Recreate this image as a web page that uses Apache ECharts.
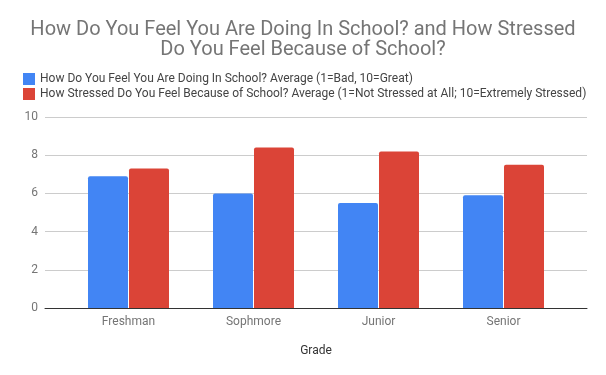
<!DOCTYPE html>
<html>
<head>
<meta charset="utf-8">
<script src="https://cdn.jsdelivr.net/npm/echarts@6/dist/echarts.min.js"></script>
<style>html,body{margin:0;padding:0;background:#fff}#c{width:606px;height:375px}</style>
</head>
<body>
<div id="c"></div>
<script>
var categories = ['Freshman', 'Sophmore', 'Junior', 'Senior'];
var doingValues = [6.9, 6.0, 5.5, 5.9];
var stressValues = [7.3, 8.4, 8.2, 7.5];
var seriesNames = [
  'How Do You Feel You Are Doing In School? Average (1=Bad, 10=Great)',
  'How Stressed Do You Feel Because of School? Average (1=Not Stressed at All; 10=Extremely Stressed)'
];
var yTicks = [0, 2, 4, 6, 8, 10];

var chart = echarts.init(document.getElementById('c'), null, {renderer: 'canvas'});
var font = 'Roboto, "Noto Sans", sans-serif';
chart.setOption({
  backgroundColor: '#ffffff',
  animation: false,
  textStyle: {fontFamily: font},
  title: {
    text: 'How Do You Feel You Are Doing In School? and How Stressed\nDo You Feel Because of School?',
    left: 'center',
    top: 15,
    textStyle: {fontFamily: font, fontSize: 20, fontWeight: 'normal', color: '#757575', lineHeight: 20, align: 'center'}
  },
  legend: {
    orient: 'vertical',
    left: 18,
    top: 68,
    itemWidth: 12,
    itemHeight: 12,
    itemGap: 3,
    icon: 'rect',
    data: seriesNames,
    textStyle: {fontFamily: font, fontSize: 12, color: '#444'}
  },
  grid: [
    {left: 45, right: 19, top: 117, bottom: 67},
    {left: 66, right: 40, top: 117, bottom: 67}
  ],
  xAxis: [
    {
      gridIndex: 0, type: 'category', data: categories,
      axisLabel: {show: false}, axisTick: {show: false},
      axisLine: {lineStyle: {color: '#333', width: 1}}, splitLine: {show: false}
    },
    {
      gridIndex: 1, type: 'category', data: categories,
      axisLine: {show: false}, axisTick: {show: false},
      axisLabel: {margin: 8, fontSize: 12, color: '#757575', fontFamily: font},
      name: 'Grade', nameLocation: 'middle', nameGap: 37,
      nameTextStyle: {fontSize: 12, color: '#333', fontFamily: font}
    }
  ],
  yAxis: [
    {
      gridIndex: 0, type: 'value', min: yTicks[0], max: yTicks[yTicks.length - 1], interval: 2,
      axisLine: {show: false}, axisTick: {show: false},
      axisLabel: {margin: 7, fontSize: 12, color: '#757575', fontFamily: font},
      splitLine: {lineStyle: {color: '#cccccc', width: 1}}
    },
    {
      gridIndex: 1, type: 'value', min: yTicks[0], max: yTicks[yTicks.length - 1], interval: 2,
      show: false, splitLine: {show: false}
    }
  ],
  series: [
    {
      name: seriesNames[0], type: 'bar', xAxisIndex: 1, yAxisIndex: 1,
      data: doingValues, barWidth: 40, barGap: '2.5%',
      itemStyle: {color: '#4285F4', borderRadius: [2, 2, 0, 0]}
    },
    {
      name: seriesNames[1], type: 'bar', xAxisIndex: 1, yAxisIndex: 1,
      data: stressValues, barWidth: 40, barGap: '2.5%',
      itemStyle: {color: '#DB4437', borderRadius: [2, 2, 0, 0]}
    }
  ]
});
</script>
</body>
</html>
